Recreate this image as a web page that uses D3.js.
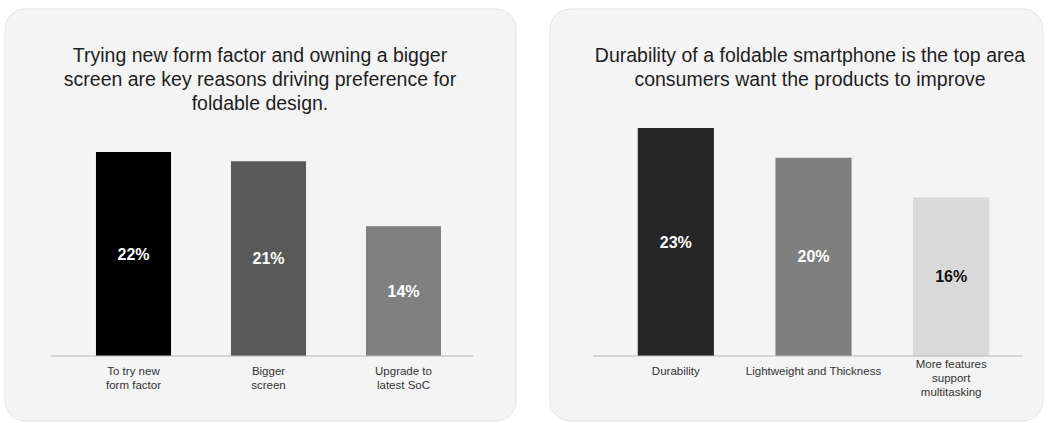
<!DOCTYPE html>
<html>
<head>
<meta charset="utf-8">
<script src="https://cdn.jsdelivr.net/npm/d3@7"></script>
<style>
  html, body { margin: 0; padding: 0; background: #ffffff; }
  svg { display: block; }
  text { font-family: "Liberation Sans", Arial, sans-serif; }
</style>
</head>
<body>
<svg id="chart" width="1052" height="423"></svg>
<script>
// ---- Data ----
const leftTitle = ["Trying new form factor and owning a bigger", "screen are key reasons driving preference for", "foldable design."];
const leftCategories = ["To try new form factor", "Bigger screen", "Upgrade to latest SoC"];
const leftLabelLines = [["To try new", "form factor"], ["Bigger", "screen"], ["Upgrade to", "latest SoC"]];
const leftValues = [22, 21, 14];

const rightTitle = ["Durability of a foldable smartphone is the top area", "consumers want the products to improve"];
const rightCategories = ["Durability", "Lightweight and Thickness", "More features support multitasking"];
const rightLabelLines = [["Durability"], ["Lightweight and Thickness"], ["More features", "support", "multitasking"]];
const rightValues = [23, 20, 16];

// ---- Styles / layout ----
const leftColors = ["#000000", "#595959", "#808080"];
const leftTextColors = ["#ffffff", "#ffffff", "#ffffff"];
const rightColors = ["#262626", "#7f7f7f", "#d9d9d9"];
const rightTextColors = ["#ffffff", "#ffffff", "#111111"];

const svg = d3.select("#chart");

function panel(cfg) {
  const g = svg.append("g");
  g.append("rect")
    .attr("x", cfg.px).attr("y", cfg.py)
    .attr("width", cfg.pw).attr("height", cfg.ph)
    .attr("rx", 20).attr("ry", 20)
    .attr("fill", "#f4f4f4")
    .attr("stroke", "#e4e4e4").attr("stroke-width", 1);

  // title
  const t = g.append("text")
    .attr("x", cfg.titleX)
    .attr("text-anchor", "middle")
    .attr("font-size", 19.5)
    .attr("fill", "#1e1e1e");
  cfg.title.forEach((line, i) => {
    t.append("tspan").attr("x", cfg.titleX).attr("y", cfg.titleY + i * 24).text(line);
  });

  const x = d3.scaleBand()
    .domain(cfg.categories)
    .range(cfg.xRange)
    .paddingInner(cfg.padInner)
    .paddingOuter(cfg.padInner / 2);

  const y = d3.scaleLinear()
    .domain([0, d3.max(cfg.values)])
    .range([cfg.baseY, cfg.topY]);

  const data = cfg.categories.map((c, i) => ({ c, v: cfg.values[i], i }));

  g.selectAll("rect.bar").data(data).join("rect")
    .attr("class", "bar")
    .attr("x", d => x(d.c))
    .attr("width", x.bandwidth())
    .attr("y", d => y(d.v))
    .attr("height", d => y(0) - y(d.v))
    .attr("fill", d => cfg.colors[d.i]);

  g.selectAll("text.val").data(data).join("text")
    .attr("class", "val")
    .attr("x", d => x(d.c) + x.bandwidth() / 2)
    .attr("y", d => (y(d.v) + y(0)) / 2)
    .attr("dy", "0.35em")
    .attr("text-anchor", "middle")
    .attr("font-size", 16)
    .attr("font-weight", "bold")
    .attr("fill", d => cfg.textColors[d.i])
    .text(d => d.v + "%");

  // axis baseline
  const axis = d3.axisBottom(x).tickSize(0).tickFormat("");
  const ag = g.append("g").attr("transform", `translate(0,${cfg.baseY})`).call(axis);
  ag.select(".domain")
    .attr("d", `M${cfg.lineX[0]},0H${cfg.lineX[1]}`)
    .attr("stroke", "#b8b8b8").attr("stroke-width", 1.2);
  ag.selectAll(".tick text").remove();

  // category labels
  const lh = 14;
  data.forEach(d => {
    const lines = cfg.labelLines[d.i];
    const y0 = cfg.baseY + 19 - (lines.length >= 3 ? lh / 2 : 0);
    const tx = g.append("text")
      .attr("text-anchor", "middle")
      .attr("font-size", 11.5)
      .attr("fill", "#333333");
    lines.forEach((ln, k) => {
      tx.append("tspan")
        .attr("x", x(d.c) + x.bandwidth() / 2)
        .attr("y", y0 + k * lh)
        .text(ln);
    });
  });
}

panel({
  px: 5, py: 9, pw: 511, ph: 412,
  title: leftTitle, titleX: 260, titleY: 62,
  categories: leftCategories, labelLines: leftLabelLines, values: leftValues,
  colors: leftColors, textColors: leftTextColors,
  xRange: [66, 471], padInner: 0.444,
  baseY: 356, topY: 152, lineX: [51, 473]
});

panel({
  px: 550, py: 9, pw: 493, ph: 412,
  title: rightTitle, titleX: 810, titleY: 62,
  categories: rightCategories, labelLines: rightLabelLines, values: rightValues,
  colors: rightColors, textColors: rightTextColors,
  xRange: [607, 1020], padInner: 0.447,
  baseY: 356, topY: 128, lineX: [593, 1022]
});
</script>
</body>
</html>
